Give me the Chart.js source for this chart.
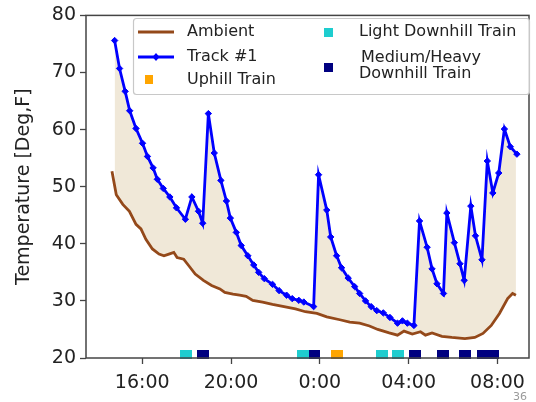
<!DOCTYPE html>
<html>
<head>
<meta charset="utf-8">
<script src="https://cdn.jsdelivr.net/npm/chart.js@4.4.1/dist/chart.umd.min.js"></script>
<style>
	html, body { margin: 0; padding: 0; background: #fff; }
	#wrap { width: 536px; height: 402px; position: relative; }
</style>
</head>
<body>
<div id="wrap"><canvas id="chart" width="536" height="402"></canvas></div>
<script>
// time in hours from midnight of day 1 (24 = 0:00 next day)
const trackHours = [14.756, 14.978, 15.231, 15.436, 15.72, 16.013, 16.236, 16.489, 16.68, 16.947, 17.244, 17.542, 17.942,
	18.236, 18.533, 18.724, 18.978, 19.244, 19.542, 19.791, 19.969, 20.236, 20.458, 20.756, 21.022, 21.244, 21.498, 21.867,
	22.164, 22.502, 22.756, 23.053, 23.276, 23.72, 23.942, 24.311, 24.489, 24.756, 24.978, 25.276, 25.569, 25.791, 26.058,
	26.311, 26.564, 26.858, 27.156, 27.498, 27.72, 27.942, 28.236, 28.489, 28.831, 29.053, 29.276, 29.569, 29.72, 30.058,
	30.311, 30.502, 30.8, 31.009, 31.302, 31.542, 31.791, 32.058, 32.311, 32.578, 32.876]
const trackTemps = [75.6, 70.7, 66.7, 63.3, 60.2, 57.6, 55.3, 53.3, 51.3, 49.7, 48.2, 46.3, 44.3,
	48.2, 45.7, 43.6, 62.8, 55.9, 51.1, 47.5, 44.5, 42.0, 39.7, 37.9, 36.3, 35.0, 33.9, 32.9,
	31.8, 31.0, 30.4, 30.1, 29.8, 29.0, 52.1, 45.9, 41.2, 37.9, 35.8, 34.0, 32.5, 31.3, 30.0,
	29.0, 28.3, 27.9, 27.1, 26.1, 26.5, 26.1, 25.7, 44.0, 39.4, 35.6, 33.0, 31.3, 45.4, 40.2,
	36.5, 33.6, 46.6, 41.4, 37.2, 54.5, 48.9, 52.4, 60.1, 57.0, 55.7]

const ambientHours = [14.636, 14.831, 15.124, 15.422, 15.72, 15.942, 16.164, 16.458, 16.756, 16.978, 17.2, 17.422, 17.569,
	17.867, 18.089, 18.387, 18.756, 19.124, 19.498, 19.72, 20.089, 20.387, 20.68, 20.978, 21.422, 21.867, 22.387, 22.902,
	23.347, 23.867, 24.311, 24.902, 25.347, 25.791, 26.236, 26.609, 27.124, 27.498, 27.791, 28.164, 28.533, 28.756, 29.053,
	29.498, 29.942, 30.533, 30.978, 31.347, 31.72, 32.089, 32.458, 32.68, 32.831]
const ambientTemps = [52.7, 48.6, 46.9, 45.7, 43.4, 42.6, 40.8, 39.1, 38.2, 37.9, 38.2, 38.5, 37.6,
	37.3, 36.2, 34.7, 33.6, 32.7, 32.1, 31.5, 31.2, 31.0, 30.8, 30.1, 29.8, 29.4, 29.0, 28.6,
	28.1, 27.8, 27.2, 26.7, 26.3, 26.1, 25.6, 25.0, 24.4, 24.0, 24.7, 24.2, 24.6, 24.0, 24.4,
	23.8, 23.6, 23.4, 23.6, 24.3, 25.7, 27.8, 30.4, 31.3, 31.0]

const uphillHours = [24.76]
const lightHours = [17.98, 23.23, 26.79, 27.5]
const heavyHours = [18.75, 23.72, 28.28, 29.53, 30.53, 31.33, 31.78]
const trainLevel = 20.7

const xTickHours = [16, 20, 24, 28, 32]
const xTickLabels = ['16:00', '20:00', '0:00', '04:00', '08:00']
const yTicks = [20, 30, 40, 50, 60, 70, 80]

const labels = ['Ambient', 'Track #1', 'Uphill Train', 'Light Downhill Train', 'Medium/Heavy\nDownhill Train']
const colors = {
	ambient: '#94491a',
	track: '#0000ff',
	uphill: '#ffa500',
	light: '#1ecdcf',
	heavy: '#000080'
}
const FONT = '"DejaVu Sans", Verdana, sans-serif'

const pts = (xs, ys) => xs.map((x, i) => ({ x, y: ys[i] }))
const trainPts = (xs) => xs.map((x) => ({ x, y: trainLevel }))

function boxMarker(color, w, h) {
	const c = document.createElement('canvas')
	c.width = w
	c.height = h
	const g = c.getContext('2d')
	g.fillStyle = color
	g.fillRect(0, 0, w, h)
	return c
}

const legendPlugin = {
	id: 'boxLegend',
	afterDraw(chart) {
		const ctx = chart.ctx
		ctx.save()
		// frame
		ctx.beginPath()
		ctx.roundRect(133.5, 18.5, 396, 76, 3)
		ctx.fillStyle = 'rgba(255,255,255,0.85)'
		ctx.fill()
		ctx.strokeStyle = '#c8c8c8'
		ctx.lineWidth = 1.2
		ctx.stroke()

		ctx.font = '16px ' + FONT
		ctx.fillStyle = '#222'
		ctx.textBaseline = 'middle'
		ctx.textAlign = 'left'

		// Ambient
		ctx.strokeStyle = colors.ambient
		ctx.lineWidth = 2.8
		ctx.beginPath()
		ctx.moveTo(138, 32)
		ctx.lineTo(174, 32)
		ctx.stroke()
		ctx.fillText(labels[0], 187, 32)

		// Track #1
		ctx.strokeStyle = colors.track
		ctx.lineWidth = 2.8
		ctx.beginPath()
		ctx.moveTo(138, 57)
		ctx.lineTo(174, 57)
		ctx.stroke()
		ctx.fillStyle = colors.track
		ctx.beginPath()
		ctx.moveTo(156, 53)
		ctx.lineTo(159.5, 57)
		ctx.lineTo(156, 61)
		ctx.lineTo(152.5, 57)
		ctx.closePath()
		ctx.fill()
		ctx.fillStyle = '#222'
		ctx.fillText(labels[1], 187, 57)

		// Uphill
		ctx.fillStyle = colors.uphill
		ctx.fillRect(145, 75, 8, 9)
		ctx.fillStyle = '#222'
		ctx.fillText(labels[2], 187, 80)

		// Light downhill
		ctx.fillStyle = colors.light
		ctx.fillRect(324, 28, 9, 9)
		ctx.fillStyle = '#222'
		ctx.fillText(labels[3], 359, 32)

		// Medium/Heavy downhill
		ctx.fillStyle = colors.heavy
		ctx.fillRect(324, 63, 9, 9)
		ctx.fillStyle = '#222'
		const parts = labels[4].split('\n')
		ctx.fillText(parts[0], 361, 58)
		ctx.fillText(parts[1], 359, 74)

		// page number
		ctx.font = '11px ' + FONT
		ctx.fillStyle = '#9a9a9a'
		ctx.textAlign = 'center'
		ctx.fillText('36', 520, 397)
		ctx.restore()
	}
}

const framePlugin = {
	id: 'frame',
	afterDatasetsDraw(chart) {
		const { left, right, top, bottom } = chart.chartArea
		const ctx = chart.ctx
		ctx.save()
		ctx.strokeStyle = '#444'
		ctx.lineWidth = 1.5
		ctx.strokeRect(left, top, right - left, bottom - top)
		ctx.restore()
	}
}

new Chart(document.getElementById('chart').getContext('2d'), {
	type: 'line',
	data: {
		datasets: [
			{
				label: labels[2],
				data: trainPts(uphillHours),
				showLine: false,
				pointStyle: boxMarker(colors.uphill, 12, 9),
				pointRadius: 6,
				clip: false
			},
			{
				label: labels[3],
				data: trainPts(lightHours),
				showLine: false,
				pointStyle: boxMarker(colors.light, 12, 9),
				pointRadius: 6,
				clip: false
			},
			{
				label: labels[4],
				data: trainPts(heavyHours),
				showLine: false,
				pointStyle: boxMarker(colors.heavy, 12, 9),
				pointRadius: 6,
				clip: false
			},
			{
				label: labels[0],
				data: pts(ambientHours, ambientTemps),
				borderColor: colors.ambient,
				borderWidth: 2.8,
				pointRadius: 0,
				tension: 0,
				fill: false
			},
			{
				label: labels[1],
				data: pts(trackHours, trackTemps),
				borderColor: colors.track,
				borderWidth: 2.8,
				pointStyle: 'rectRot',
				pointRadius: 3.2,
				pointBackgroundColor: colors.track,
				pointBorderColor: colors.track,
				pointBorderWidth: 1,
				tension: 0,
				fill: { target: 3 },
				backgroundColor: 'rgba(205,178,125,0.3)'
			}
		]
	},
	options: {
		responsive: false,
		animation: false,
		events: [],
		layout: {
			padding: { top: 12, right: 1, left: 0, bottom: 0 }
		},
		plugins: {
			legend: { display: false },
			tooltip: { enabled: false },
			filler: { drawTime: 'beforeDatasetsDraw' }
		},
		scales: {
			x: {
				type: 'linear',
				min: 13.467,
				max: 33.42,
				afterBuildTicks: (scale) => {
					scale.ticks = xTickHours.map((value) => ({ value }))
				},
				afterFit: (scale) => {
					scale.height = 44
				},
				ticks: {
					autoSkip: false,
					maxRotation: 0,
					color: '#222',
					padding: 8,
					font: { family: FONT, size: 19 },
					callback: (value) => xTickLabels[xTickHours.indexOf(value)]
				},
				grid: {
					drawOnChartArea: false,
					tickLength: 6,
					tickColor: '#444',
					tickWidth: 1.3
				},
				border: { display: false }
			},
			y: {
				min: 20,
				max: 80,
				afterBuildTicks: (scale) => {
					scale.ticks = yTicks.map((value) => ({ value }))
				},
				afterFit: (scale) => {
					scale.width = 86
				},
				ticks: {
					color: '#222',
					padding: 4,
					font: { family: FONT, size: 19 }
				},
				grid: {
					drawOnChartArea: false,
					tickLength: 6,
					tickColor: '#444',
					tickWidth: 1.3
				},
				border: { display: false },
				title: {
					display: true,
					text: 'Temperature [Deg,F]',
					color: '#222',
					padding: { top: 13, bottom: 0 },
					font: { family: FONT, size: 19 }
				}
			}
		}
	},
	plugins: [framePlugin, legendPlugin]
})
</script>
</body>
</html>
